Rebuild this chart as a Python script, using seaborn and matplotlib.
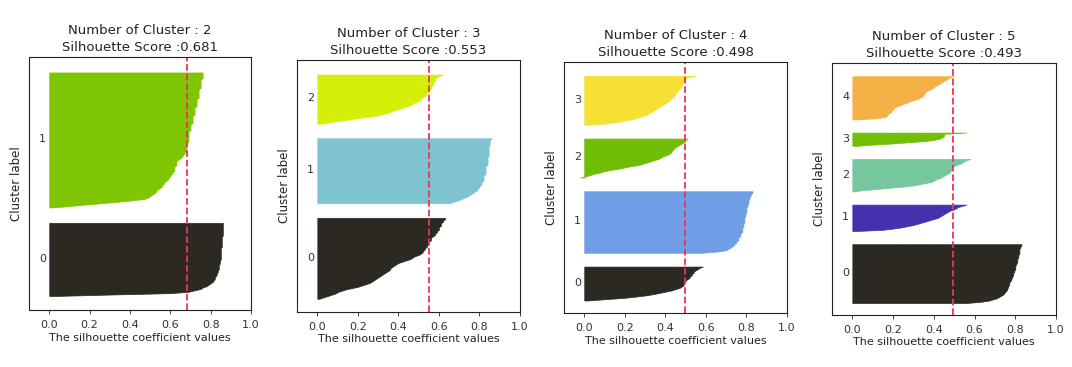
import numpy as np
import matplotlib
matplotlib.use("Agg")
import matplotlib.pyplot as plt
import seaborn as sns

# ---------------- data ----------------
n_clusters_list = [2, 3, 4, 5]
silhouette_scores = [0.681, 0.553, 0.498, 0.493]

# sorted silhouette values per cluster (k=2)
k2_c0 = ([0.03, 0.30, 0.60]
         + [0.69, 0.72, 0.75, 0.76, 0.78, 0.79, 0.80, 0.81, 0.815, 0.82]
         + [0.82, 0.825, 0.83, 0.83, 0.835, 0.835, 0.84, 0.84, 0.84, 0.84, 0.845, 0.845, 0.845, 0.85, 0.85, 0.85, 0.85, 0.85]
         + [0.85] * 4 + [0.855] * 8 + [0.86] * 10)
k2_c1 = ([0.02, 0.10, 0.18, 0.26, 0.34, 0.41, 0.47]
         + [0.49, 0.50, 0.51, 0.52, 0.53, 0.53]
         + [0.54, 0.55, 0.56, 0.56, 0.57, 0.57, 0.58]
         + [0.59, 0.59, 0.60, 0.60, 0.61, 0.61, 0.62]
         + [0.62, 0.62, 0.62, 0.63, 0.63, 0.63, 0.63]
         + [0.64, 0.65, 0.66, 0.66, 0.67, 0.67, 0.68]
         + [0.68] * 6 + [0.69] * 6
         + [0.69, 0.69, 0.70, 0.70, 0.70, 0.70, 0.70, 0.71, 0.71, 0.71, 0.71, 0.71, 0.71, 0.72, 0.72, 0.72, 0.72]
         + [0.72, 0.72, 0.73, 0.73, 0.73, 0.73, 0.73, 0.73, 0.74, 0.74, 0.74, 0.74, 0.74, 0.74]
         + [0.74, 0.75, 0.75, 0.75, 0.75, 0.75, 0.75, 0.75, 0.76, 0.76, 0.76, 0.76, 0.76])

# k=3
k3_c0 = ([0.01, 0.03, 0.05, 0.07, 0.09, 0.10, 0.12]
         + [0.14, 0.17, 0.20, 0.22, 0.24, 0.26]
         + [0.27, 0.28, 0.29, 0.30, 0.31]
         + [0.32, 0.33, 0.34, 0.35, 0.36, 0.36]
         + [0.37, 0.38, 0.39, 0.40]
         + [0.42, 0.44, 0.46, 0.47]
         + [0.48, 0.50, 0.51, 0.52]
         + [0.52, 0.53, 0.53, 0.54, 0.54]
         + [0.55, 0.55, 0.55, 0.56, 0.56, 0.56]
         + [0.57, 0.58, 0.58, 0.59, 0.59, 0.60]
         + [0.60, 0.60, 0.61, 0.61, 0.61]
         + [0.62, 0.62, 0.63, 0.63])
k3_c1 = ([0.65, 0.67, 0.69]
         + [0.71, 0.72, 0.74, 0.75]
         + [0.76, 0.77, 0.78, 0.79, 0.79, 0.80]
         + [0.80, 0.81, 0.81, 0.81, 0.82, 0.82, 0.82]
         + [0.82, 0.82, 0.83, 0.83, 0.83, 0.83, 0.83, 0.83]
         + [0.83, 0.84, 0.84, 0.84, 0.84, 0.84, 0.84, 0.84]
         + [0.845] * 8
         + [0.85, 0.85, 0.85, 0.85, 0.855, 0.86])
k3_c2 = ([0.03, 0.06, 0.10, 0.15]
         + [0.19, 0.24, 0.29]
         + [0.32, 0.34, 0.36, 0.38]
         + [0.40, 0.42, 0.44, 0.46]
         + [0.47, 0.48, 0.50, 0.51]
         + [0.51, 0.52, 0.53, 0.54, 0.54, 0.55]
         + [0.55, 0.56, 0.56, 0.56, 0.57, 0.57]
         + [0.57, 0.58, 0.58, 0.58, 0.59]
         + [0.60, 0.62])

# k=4
k4_c0 = ([0.02, 0.10, 0.19]
         + [0.25, 0.30, 0.34]
         + [0.37, 0.40, 0.43]
         + [0.45, 0.47, 0.48, 0.49]
         + [0.49, 0.49, 0.50, 0.50]
         + [0.51, 0.52, 0.52, 0.53]
         + [0.53, 0.54, 0.54, 0.55]
         + [0.56, 0.57, 0.585])
k4_c1 = ([0.58, 0.66, 0.70, 0.71]
         + [0.72, 0.73, 0.74, 0.74, 0.75, 0.75]
         + [0.76, 0.76, 0.76, 0.77, 0.77, 0.77, 0.775]
         + [0.78, 0.78, 0.78, 0.78, 0.785, 0.785, 0.785, 0.79]
         + [0.79, 0.79, 0.79, 0.79, 0.795, 0.795, 0.795, 0.80]
         + [0.80, 0.80, 0.80, 0.80, 0.805, 0.805, 0.81, 0.81]
         + [0.81, 0.81, 0.815, 0.815, 0.82, 0.82, 0.825, 0.83, 0.83])
k4_c2 = ([-0.02, 0.01, 0.03, 0.05]
         + [0.08, 0.10, 0.13]
         + [0.17, 0.20, 0.23]
         + [0.27, 0.29, 0.31]
         + [0.33, 0.35, 0.37]
         + [0.38, 0.39, 0.41, 0.42]
         + [0.43, 0.43, 0.44, 0.44, 0.45]
         + [0.46, 0.47, 0.48, 0.49]
         + [0.50, 0.50, 0.51])
k4_c3 = ([0.01, 0.11, 0.15, 0.19]
         + [0.22, 0.25, 0.27]
         + [0.29, 0.31, 0.32]
         + [0.33, 0.34, 0.35, 0.36]
         + [0.37, 0.38, 0.39, 0.40]
         + [0.41, 0.42, 0.42, 0.43]
         + [0.44, 0.44, 0.45, 0.45, 0.46]
         + [0.46, 0.47, 0.47, 0.48, 0.48, 0.48]
         + [0.49, 0.49, 0.49, 0.50]
         + [0.50, 0.51, 0.55])

# k=5
k5_c0 = ([0.56, 0.63, 0.67]
         + [0.69, 0.71, 0.72]
         + [0.73, 0.74, 0.745, 0.75, 0.755]
         + [0.76, 0.76, 0.765, 0.765, 0.77, 0.77, 0.77]
         + [0.775, 0.78, 0.78, 0.785, 0.785, 0.79, 0.79]
         + [0.79, 0.795, 0.795, 0.80, 0.80, 0.80, 0.80]
         + [0.805, 0.805, 0.81, 0.81, 0.81, 0.81, 0.815]
         + [0.815, 0.815, 0.82, 0.82, 0.82, 0.82, 0.82]
         + [0.825, 0.825, 0.83, 0.83])
k5_c1 = ([0.02, 0.15, 0.20]
         + [0.24, 0.27, 0.30]
         + [0.32, 0.34, 0.36, 0.38]
         + [0.40, 0.42, 0.43, 0.44]
         + [0.45, 0.46, 0.47]
         + [0.48, 0.50, 0.51]
         + [0.52, 0.54, 0.56])
k5_c2 = ([0.01, 0.05, 0.12]
         + [0.18, 0.25, 0.30]
         + [0.33, 0.36, 0.39]
         + [0.40, 0.41, 0.43, 0.44]
         + [0.45, 0.46, 0.47, 0.48]
         + [0.48, 0.49, 0.49, 0.49]
         + [0.50, 0.51, 0.53]
         + [0.54, 0.55, 0.56, 0.58])
k5_c3 = [0.02, 0.10, 0.20, 0.28, 0.36, 0.40, 0.43, 0.44, 0.45, 0.45, 0.45, 0.56]
k5_c4 = ([0.02, 0.12, 0.16]
         + [0.17, 0.17, 0.18]
         + [0.19, 0.19, 0.20, 0.20, 0.21]
         + [0.22, 0.24, 0.25, 0.27, 0.28]
         + [0.30, 0.32, 0.33, 0.345]
         + [0.35, 0.35, 0.355, 0.36]
         + [0.37, 0.38, 0.395]
         + [0.40, 0.41, 0.42, 0.43]
         + [0.44, 0.45, 0.46, 0.47, 0.48, 0.50])

panel_clusters = [
    [k2_c0, k2_c1],
    [k3_c0, k3_c1, k3_c2],
    [k4_c0, k4_c1, k4_c2, k4_c3],
    [k5_c0, k5_c1, k5_c2, k5_c3, k5_c4],
]

panel_colors = [
    ["#2b2922", "#7ec602"],
    ["#2b2922", "#80c3d0", "#d6ef08"],
    ["#2b2922", "#6f9de6", "#6fbd05", "#f6e034"],
    ["#2b2922", "#4431ae", "#76c79d", "#70be05", "#f5b146"],
]

xtick_values = [0.0, 0.2, 0.4, 0.6, 0.8, 1.0]
xtick_labels = ["0.0", "0.2", "0.4", "0.6", "0.8", "1.0"]

# ---------------- style ----------------
sns.set_style("white")
plt.rcParams["font.family"] = ["DejaVu Sans"]
plt.rcParams["axes.edgecolor"] = "#222222"
plt.rcParams["axes.linewidth"] = 0.8

fig = plt.figure(figsize=(10.72, 3.67), dpi=100)

positions = [
    [0.0271, 0.1553, 0.2071, 0.6894],
    [0.2771, 0.1499, 0.2080, 0.6866],
    [0.5261, 0.1471, 0.2080, 0.6840],
    [0.7761, 0.1417, 0.2090, 0.6866],
]

for p, (k, score, clusters, colors) in enumerate(zip(n_clusters_list, silhouette_scores,
                                                      panel_clusters, panel_colors)):
    ax = fig.add_axes(positions[p])
    n_total = sum(len(c) for c in clusters)
    y_lower = 10
    for i, vals in enumerate(clusters):
        vals = np.sort(np.asarray(vals, dtype=float))
        size = len(vals)
        y_upper = y_lower + size
        ax.fill_betweenx(np.arange(y_lower, y_upper), 0, vals,
                         facecolor=colors[i], edgecolor=colors[i], linewidth=0.5)
        ax.text(-0.05, y_lower + 0.5 * size, str(i), fontsize=8, color="#333333",
                va="center", ha="left")
        y_lower = y_upper + 10

    ax.axvline(x=score, color="#ec3358", linestyle="--", linewidth=1.3)
    ax.set_xlim(-0.1, 1.0)
    ax.set_ylim(0, n_total + (k + 1) * 10)
    ax.set_yticks([])
    ax.set_xticks(xtick_values)
    ax.set_xticklabels(xtick_labels, fontsize=8, color="#333333")
    ax.tick_params(axis="x", bottom=True, length=3, width=0.6, direction="out", pad=4)
    ax.set_xlabel("The silhouette coefficient values", fontsize=8, color="#222222", labelpad=2)
    ax.set_ylabel("Cluster label", fontsize=8.5, color="#222222", labelpad=4)
    ax.set_title("Number of Cluster : " + str(k) + "\nSilhouette Score :" + str(round(score, 3)),
                 fontsize=9.5, color="#222222", pad=4, linespacing=1.4)
    for s in ax.spines.values():
        s.set_visible(True)

fig.savefig("out.png", dpi=100, facecolor="white")
